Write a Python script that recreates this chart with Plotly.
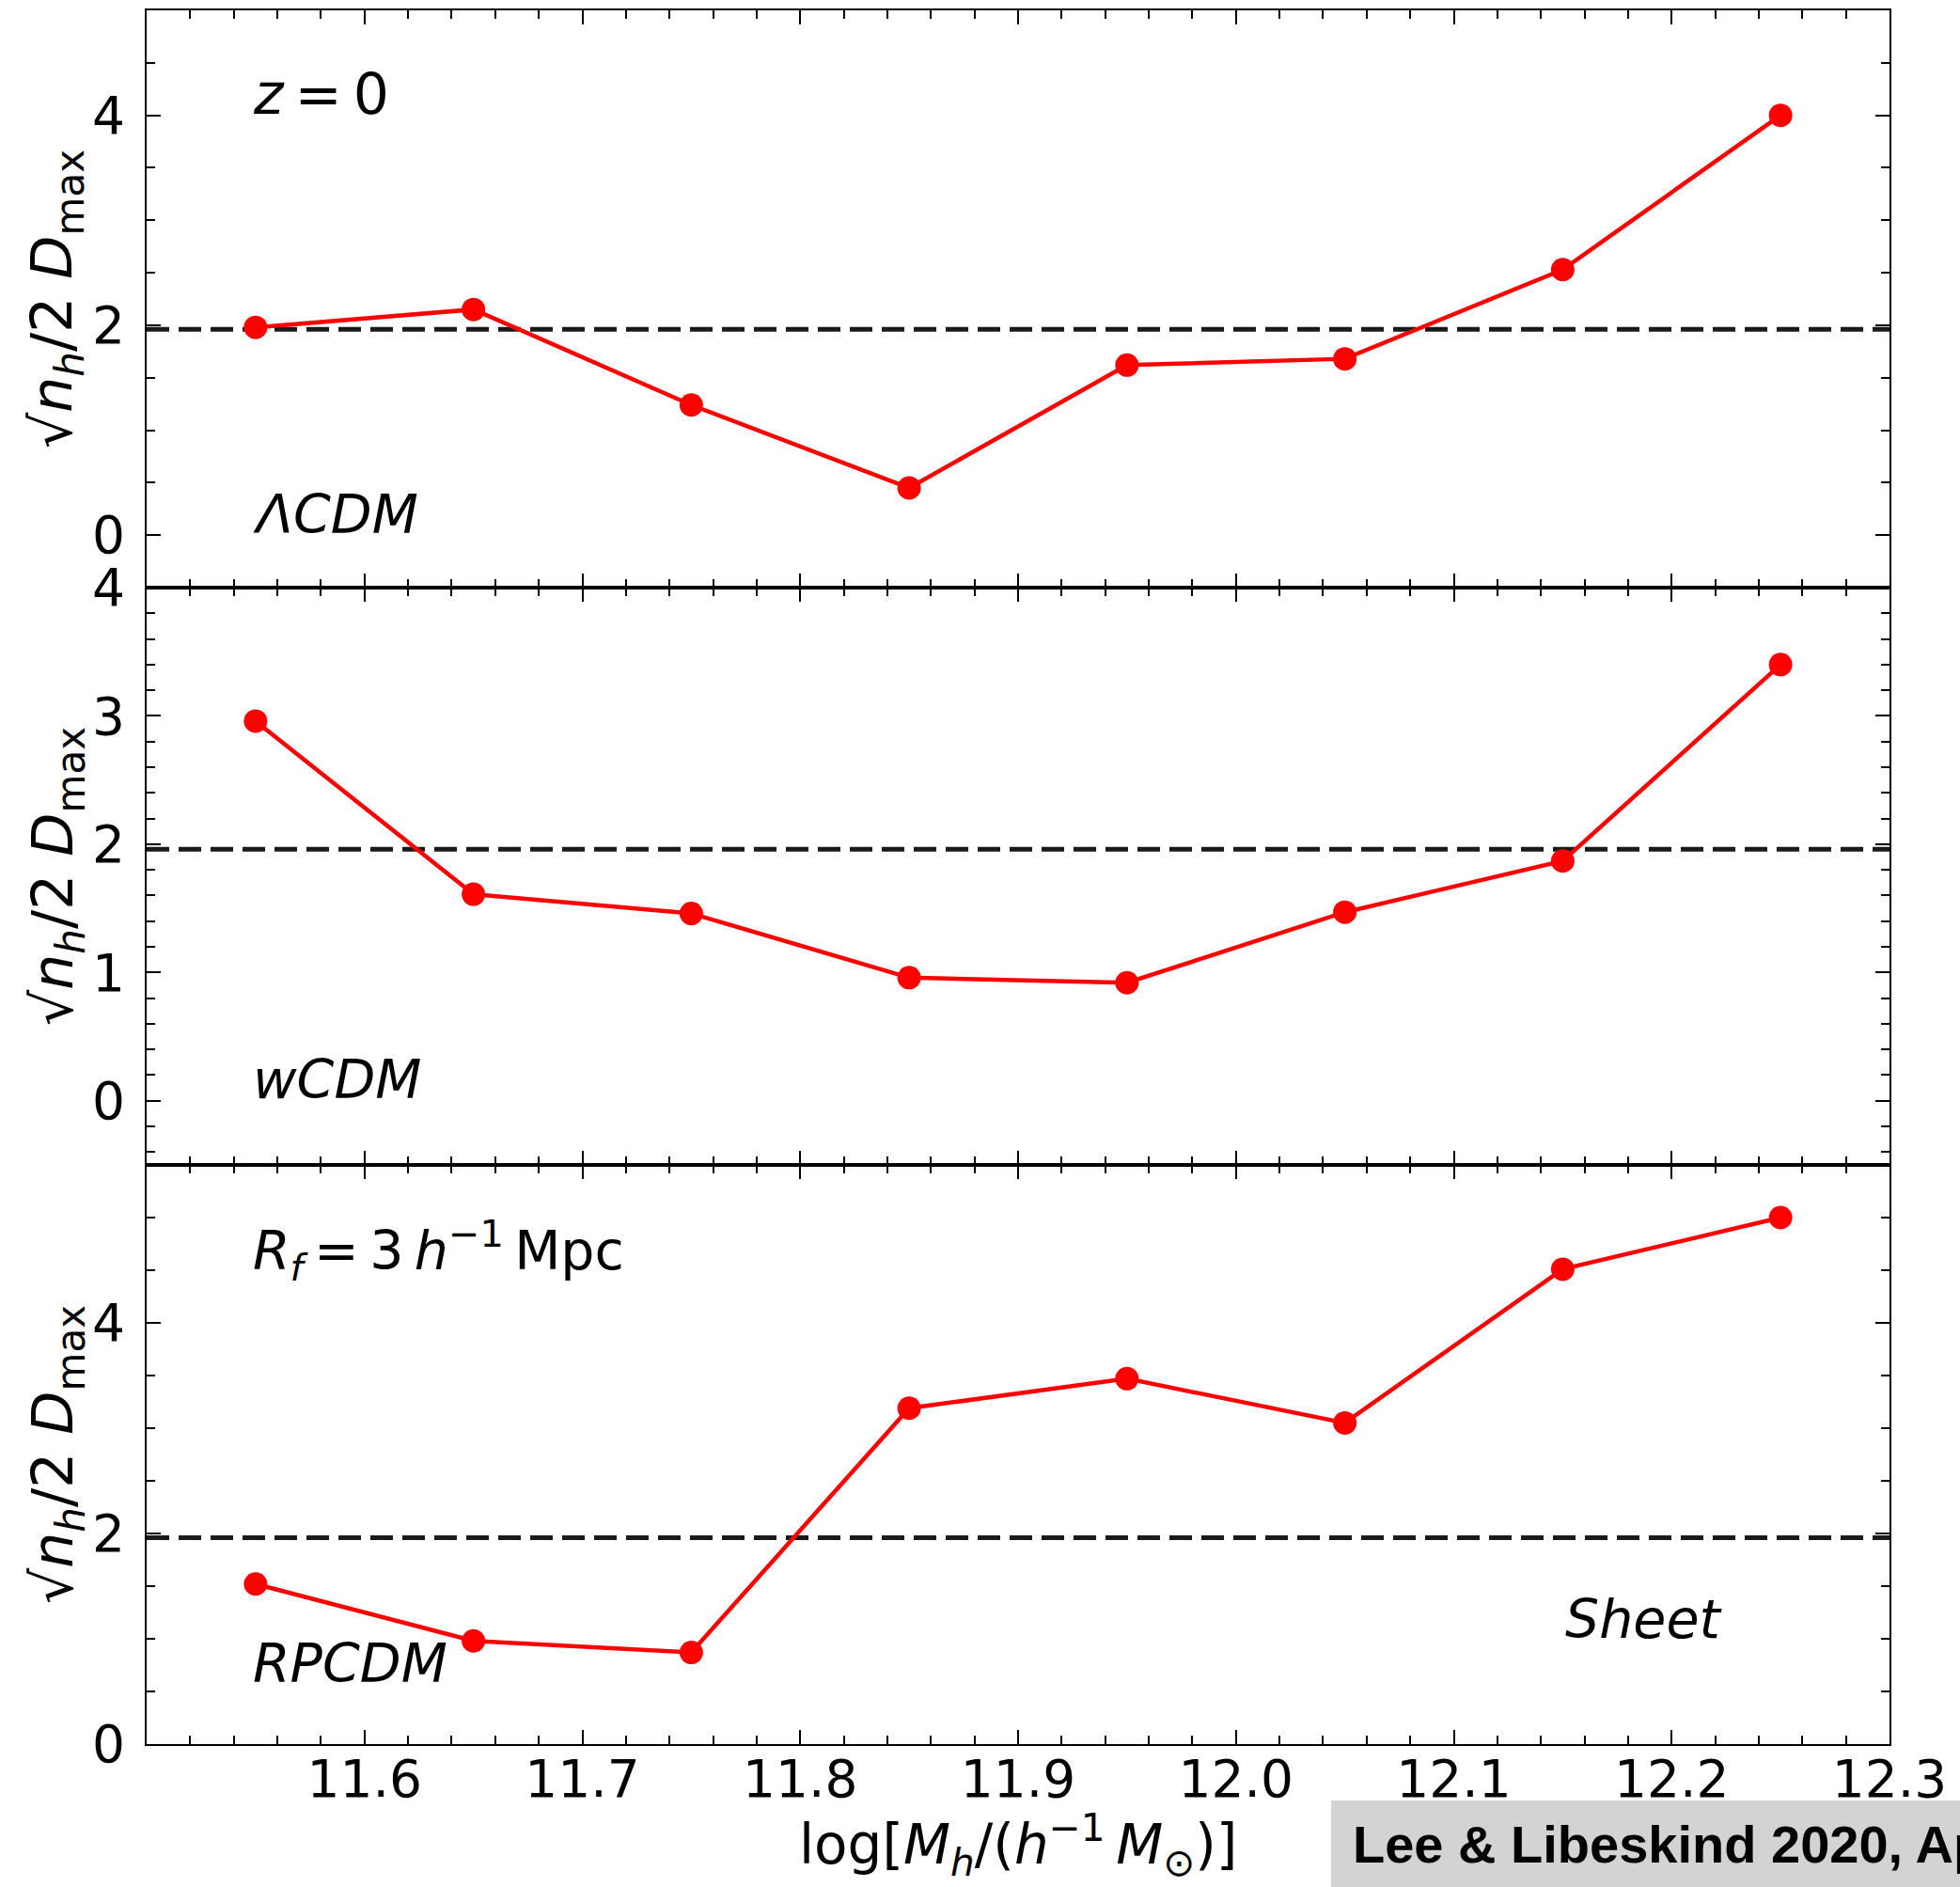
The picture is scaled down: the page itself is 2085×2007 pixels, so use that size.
import plotly.graph_objects as go

# ---- data ----
mass_bins = [11.55, 11.65, 11.75, 11.85, 11.95, 12.05, 12.15, 12.25]
lcdm_sig = [1.98, 2.15, 1.24, 0.45, 1.62, 1.68, 2.53, 4.00]
wcdm_sig = [2.96, 1.61, 1.46, 0.96, 0.92, 1.47, 1.87, 3.40]
rpcdm_sig = [1.52, 0.98, 0.87, 3.19, 3.47, 3.05, 4.51, 5.00]
threshold = 1.96
x_range = [11.5, 12.3]
x_tick_vals = [11.6, 11.7, 11.8, 11.9, 12.0, 12.1, 12.2, 12.3]
x_tick_text = ["11.6", "11.7", "11.8", "11.9", "12.0", "12.1", "12.2", "12.3"]
panel_models = ["ΛCDM", "wCDM", "RPCDM"]

W, H = 2085, 2007
ML, MR, MT, MB = 156, 75, 11, 152
PW = W - ML - MR
PH = H - MT - MB

def py(px):  # pixel from top -> paper y
    return (H - MB - px) / PH

def pxx(px):  # pixel from left -> paper x
    return (px - ML) / PW

FONT = "DejaVu Sans"
TICKF = dict(family=FONT, size=55, color="black")

fig = go.Figure()

series = [lcdm_sig, wcdm_sig, rpcdm_sig]
axes = [("x", "y"), ("x2", "y2"), ("x3", "y3")]
for vals, (xa, ya) in zip(series, axes):
    fig.add_trace(go.Scatter(x=x_range, y=[threshold, threshold], mode="lines",
                             line=dict(color="#1a1a1a", width=5, dash="24px,10px"),
                             xaxis=xa, yaxis=ya, showlegend=False, hoverinfo="skip"))
    fig.add_trace(go.Scatter(x=mass_bins, y=vals, mode="lines+markers",
                             line=dict(color="#ff0000", width=4.5),
                             marker=dict(color="#ff0000", size=25),
                             xaxis=xa, yaxis=ya, showlegend=False))

b1, b2 = 625, 1239
domains = [[py(b1), 1.0], [py(b2), py(b1)], [0.0, py(b2)]]
y_ranges = [[-0.5, 5.0], [-0.5, 4.0], [0.0, 5.5]]
y_dticks = [2, 1, 2]
y_minor = [0.5, 0.2, 0.5]

common_ax = dict(showline=True, linecolor="black", linewidth=2, mirror="allticks",
                 ticks="inside", ticklen=15, tickwidth=2.2, tickcolor="black",
                 showgrid=False, zeroline=False, tickfont=TICKF, automargin=False)

layout = dict(width=W, height=H, margin=dict(l=ML, r=MR, t=MT, b=MB, autoexpand=False),
              plot_bgcolor="white", paper_bgcolor="white", showlegend=False)

for i in range(3):
    sfx = "" if i == 0 else str(i + 1)
    xa = dict(common_ax, range=x_range, tickvals=x_tick_vals, ticktext=x_tick_text,
              showticklabels=(i == 2), anchor="y" + sfx, ticklabelstandoff=-12,
              minor=dict(dtick=0.02, tick0=11.5, ticks="inside", ticklen=9,
                         tickwidth=2, tickcolor="black"))
    if i > 0:
        xa["matches"] = "x"
    ya = dict(common_ax, range=y_ranges[i], dtick=y_dticks[i], tick0=0,
              domain=domains[i], anchor="x" + sfx, ticklabelstandoff=10,
              minor=dict(dtick=y_minor[i], tick0=0, ticks="inside", ticklen=9,
                         tickwidth=2, tickcolor="black"))
    layout["xaxis" + sfx] = xa
    layout["yaxis" + sfx] = ya

fig.update_layout(**layout)

ANF = dict(family=FONT, size=57, color="black")
annotations = []
# y titles
ytitle = "√<i>n</i><sub><i>h</i></sub>/2 <i>D</i><sub>max</sub>"
for d in domains:
    annotations.append(dict(text=ytitle, xref="paper", yref="paper", x=pxx(60),
                            y=(d[0] + d[1]) / 2, textangle=-90, showarrow=False,
                            xanchor="center", yanchor="middle",
                            font=dict(family=FONT, size=60, color="black")))
# panel texts
annotations.append(dict(text="<i>z</i>\u2009=\u20090", xref="x", yref="y", x=11.548, y=4.2,
                        xanchor="left", yanchor="middle", showarrow=False,
                        font=dict(family=FONT, size=60, color="black")))
annotations.append(dict(text="<i>" + panel_models[0] + "</i>", xref="x", yref="y", x=11.548, y=0.2,
                        xanchor="left", yanchor="middle", showarrow=False, font=ANF))
annotations.append(dict(text="<i>" + panel_models[1] + "</i>", xref="x2", yref="y2", x=11.548, y=0.17,
                        xanchor="left", yanchor="middle", showarrow=False, font=ANF))
annotations.append(dict(text="<i>R</i><sub><i>f</i></sub>\u2009=\u20093\u2009<i>h</i><sup>−1</sup>\u2009Mpc",
                        xref="x3", yref="y3", x=11.548, y=4.69,
                        xanchor="left", yanchor="middle", showarrow=False, font=ANF))
annotations.append(dict(text="<i>" + panel_models[2] + "</i>", xref="x3", yref="y3", x=11.548, y=0.77,
                        xanchor="left", yanchor="middle", showarrow=False, font=ANF))
annotations.append(dict(text="<i>Sheet</i>", xref="x3", yref="y3", x=12.187, y=1.19,
                        xanchor="center", yanchor="middle", showarrow=False, font=ANF))
# x title
annotations.append(dict(text="log[<i>M</i><sub><i>h</i></sub>/(<i>h</i><sup>−1</sup>\u2009<i>M</i><sub>⊙</sub>)]",
                        xref="paper", yref="paper", x=0.5, y=py(1962),
                        xanchor="center", yanchor="middle", showarrow=False,
                        font=dict(family=FONT, size=58, color="black")))
# credit box
annotations.append(dict(text="<b>Lee & Libeskind 2020, ApJ</b>", xref="paper", yref="paper",
                        x=pxx(1437), y=py(1961), xanchor="left", yanchor="middle",
                        showarrow=False,
                        font=dict(family="Liberation Sans", size=56, color="black")))
fig.update_layout(annotations=annotations)

fig.add_shape(type="rect", xref="paper", yref="paper",
              x0=pxx(1416), x1=pxx(2100), y0=py(1915), y1=py(2010),
              fillcolor="#d3d3d3", line=dict(width=0), layer="below")

fig.write_html("out.html")
